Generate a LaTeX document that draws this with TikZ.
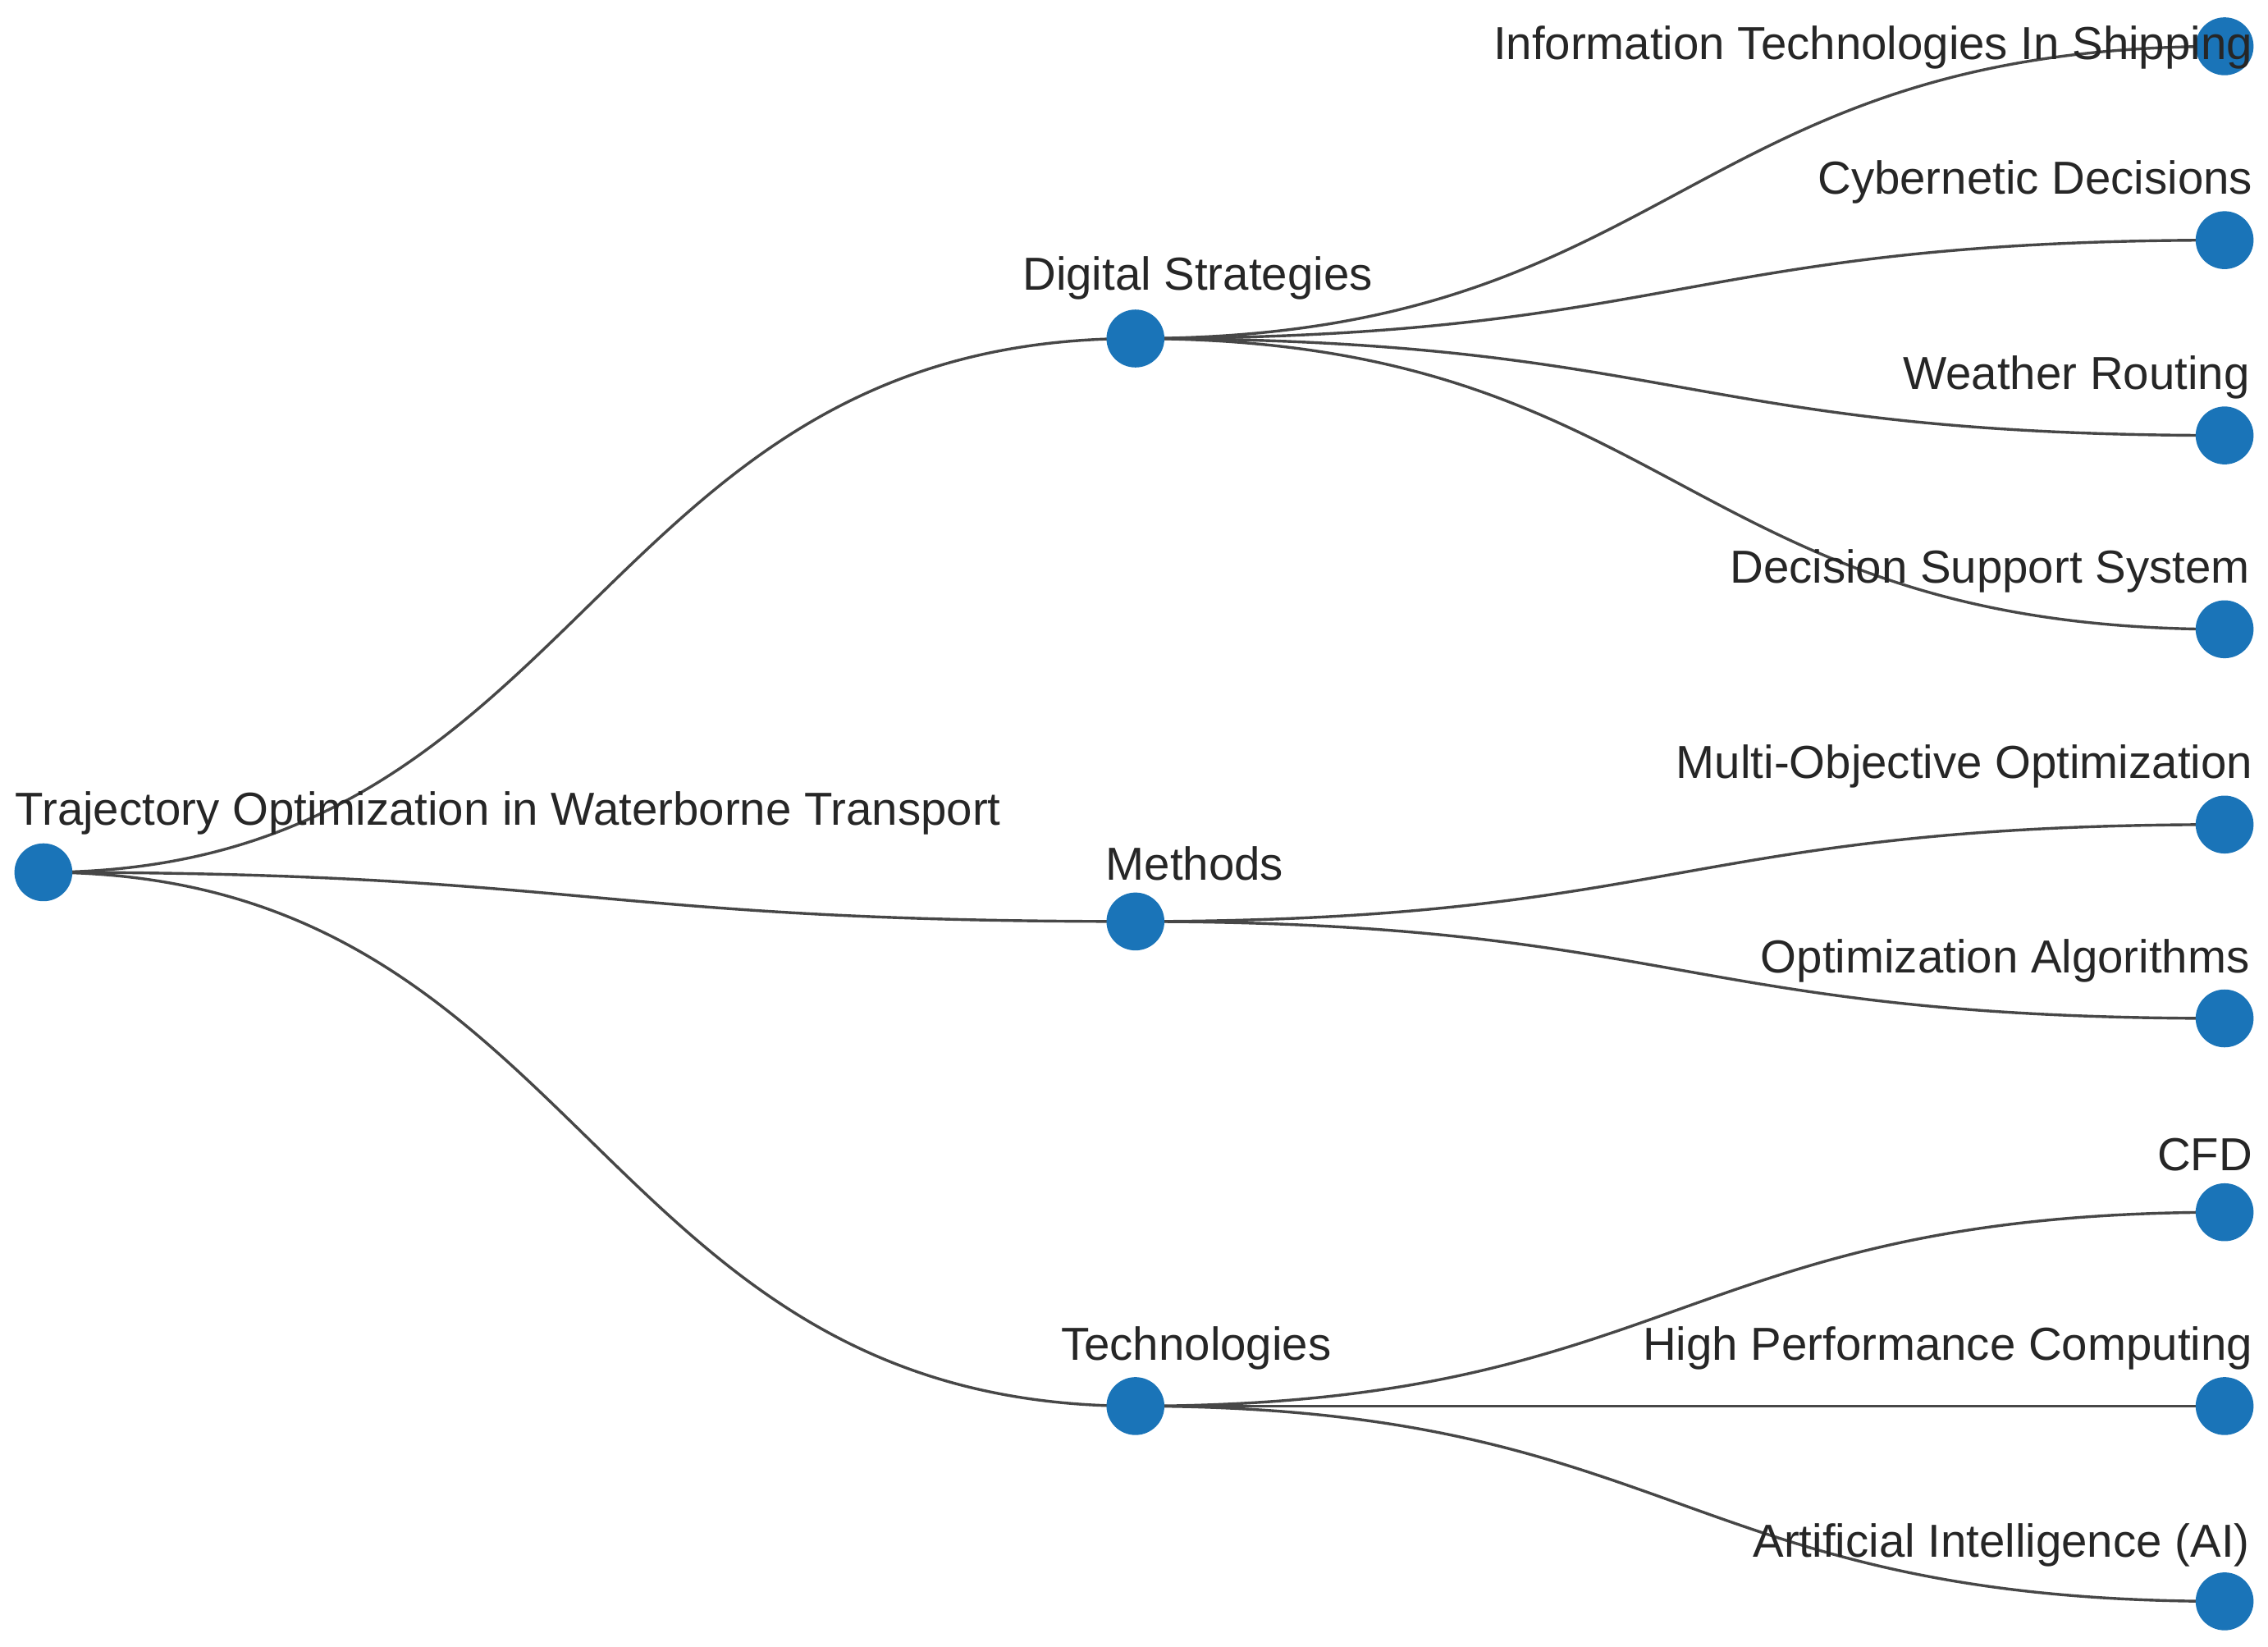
\documentclass[tikz,border=0pt]{standalone}
\usepackage{fontspec}
\setmainfont{Liberation Sans}
\begin{document}
\begin{tikzpicture}[x=0.01cm,y=-0.01cm,
  dot/.style={circle,fill=dotblue,draw=none,minimum size=0.4cm,inner sep=0pt},
  lab/.style={font=\fontsize{9.1pt}{11pt}\selectfont,inner sep=0pt,text=black!85},
  edge/.style={draw=black!72,line width=0.55pt}]
\definecolor{dotblue}{HTML}{1A74B8}
\useasboundingbox (0,0) rectangle (1568,1138);
\coordinate (r) at (30,603);
\coordinate (d) at (785,234);
\coordinate (m) at (785,637);
\coordinate (t) at (785,972);
\coordinate (l1) at (1538,32);
\coordinate (l2) at (1538,166);
\coordinate (l3) at (1538,301);
\coordinate (l4) at (1538,435);
\coordinate (l5) at (1538,570);
\coordinate (l6) at (1538,704);
\coordinate (l7) at (1538,838);
\coordinate (l8) at (1538,972);
\coordinate (l9) at (1538,1107);
\draw[edge] (r) .. controls (407,603) and (407,234) .. (d);
\draw[edge] (r) .. controls (407,603) and (407,637) .. (m);
\draw[edge] (r) .. controls (407,603) and (407,972) .. (t);
\foreach \a/\b/\ya/\yb in {d/l1/234/32,d/l2/234/166,d/l3/234/301,d/l4/234/435,m/l5/637/570,m/l6/637/704,t/l7/972/838,t/l8/972/972,t/l9/972/1107}{
  \draw[edge] (\a) .. controls (1161,\ya) and (1161,\yb) .. (\b);}
\node[dot] (nr) at (r) {};
\node[dot] (nd) at (d) {};
\node[dot] (nm) at (m) {};
\node[dot] (nt) at (t) {};
\foreach \i in {1,...,9}{\node[dot] (n\i) at (l\i) {};}
\node[lab,anchor=west] (tr) at (10,562) {Trajectory Optimization in Waterborne Transport};
\node[lab] (td) at (828,192) {Digital Strategies};
\node[lab] (tm) at (826,597) {Methods};
\node[lab] (tt) at (827,932) {Technologies};
\node[lab,anchor=east] (t1) at (1558,33) {Information Technologies In Shipping};
\node[lab,anchor=east] (t2) at (1558,126) {Cybernetic Decisions};
\node[lab,anchor=east] (t3) at (1556,261) {Weather Routing};
\node[lab,anchor=east] (t4) at (1556,395) {Decision Support System};
\node[lab,anchor=east] (t5) at (1558,530) {Multi-Objective Optimization};
\node[lab,anchor=east] (t6) at (1556,664) {Optimization Algorithms};
\node[lab,anchor=east] (t7) at (1558,798) {CFD};
\node[lab,anchor=east] (t8) at (1558,932) {High Performance Computing};
\node[lab,anchor=east] (t9) at (1556,1068) {Artificial Intelligence (AI)};
\end{tikzpicture}
\end{document}
